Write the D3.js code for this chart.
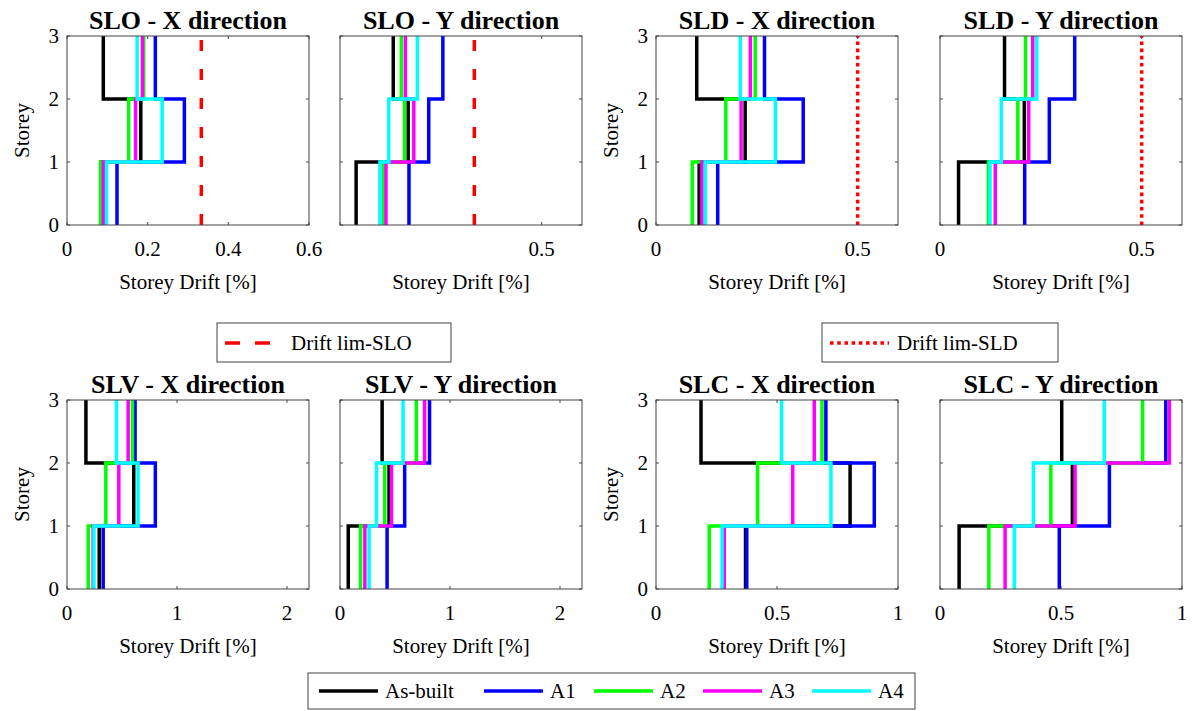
<!DOCTYPE html>
<html>
<head>
<meta charset="utf-8">
<script src="https://cdn.jsdelivr.net/npm/d3@7"></script>
<style>
  body { margin: 0; background: #fff; }
  svg { display: block; }
</style>
</head>
<body>
<svg id="chart" width="1192" height="711"></svg>
<script>
// Storey drift profiles, 8 panels (limit state x direction)
const seriesNames = ["As-built", "A1", "A2", "A3", "A4"];
const seriesColors = ["#000000", "#0000ff", "#00ff00", "#ff00ff", "#00ffff"];
const storeys = [0, 1, 2, 3];

// drift [%] per storey (1st, 2nd, 3rd), one row per series
const sloX = [[0.085, 0.183, 0.090], [0.124, 0.291, 0.219], [0.083, 0.153, 0.190], [0.090, 0.170, 0.187], [0.098, 0.236, 0.174]];
const sloY = [[0.040, 0.169, 0.132], [0.171, 0.220, 0.255], [0.108, 0.160, 0.152], [0.114, 0.183, 0.162], [0.099, 0.121, 0.192]];
const sldX = [[0.107, 0.221, 0.101], [0.153, 0.365, 0.269], [0.090, 0.173, 0.246], [0.114, 0.211, 0.234], [0.122, 0.296, 0.209]];
const sldY = [[0.046, 0.209, 0.160], [0.210, 0.271, 0.334], [0.120, 0.193, 0.212], [0.137, 0.220, 0.230], [0.124, 0.152, 0.240]];
const slvX = [[0.293, 0.607, 0.172], [0.329, 0.803, 0.619], [0.193, 0.353, 0.595], [0.238, 0.471, 0.556], [0.245, 0.646, 0.450]];
const slvY = [[0.075, 0.446, 0.383], [0.428, 0.588, 0.814], [0.187, 0.407, 0.694], [0.226, 0.468, 0.769], [0.265, 0.332, 0.573]];
const slcX = [[0.370, 0.802, 0.186], [0.375, 0.902, 0.702], [0.220, 0.420, 0.686], [0.282, 0.565, 0.654], [0.273, 0.723, 0.519]];
const slcY = [[0.079, 0.547, 0.503], [0.493, 0.700, 0.933], [0.202, 0.458, 0.837], [0.269, 0.558, 0.948], [0.307, 0.386, 0.679]];

const panelTitles = ["SLO - X direction", "SLO - Y direction", "SLD - X direction", "SLD - Y direction",
                     "SLV - X direction", "SLV - Y direction", "SLC - X direction", "SLC - Y direction"];
const panelData = [sloX, sloY, sldX, sldY, slvX, slvY, slcX, slcY];
const panelMax = [0.6, 0.6, 0.6, 0.6, 2.2, 2.2, 1, 1];
const panelTicks = [[0, 0.2, 0.4, 0.6], [0, 0.5], [0, 0.5], [0, 0.5], [0, 1, 2], [0, 1, 2], [0, 0.5, 1], [0, 0.5, 1]];
const panelTickLabels = [["0", "0.2", "0.4", "0.6"], ["", "0.5"], ["0", "0.5"], ["0", "0.5"],
                         ["0", "1", "2"], ["0", "1", "2"], ["0", "0.5", "1"], ["0", "0.5", "1"]];
// drift limits: SLO 0.333 %, SLD 0.5 %
const limitValues = [0.333, 0.333, 0.5, 0.5, null, null, null, null];
const limitStyle = ["slo", "slo", "sld", "sld", null, null, null, null];

const svg = d3.select("#chart");
const axisColor = "#444";
const serif = "'Liberation Serif', serif";
// 22px+ switches to a different face in this renderer, keep 21
const fontSize = "21px";

const lefts = [67, 340, 656, 940];
const tops = [36, 400];
const pw = 242, ph = 189;

const y = d3.scaleLinear().domain([0, 3]).range([ph, 0]);

function stepPoints(v) {
  return [[v[0], 0], [v[0], 1], [v[1], 1], [v[1], 2], [v[2], 2], [v[2], 3]];
}

function label(sel) {
  return sel.style("font-family", serif).style("font-size", fontSize);
}

panelData.forEach((data, i) => {
  const col = i % 4, row = Math.floor(i / 4);
  const g = svg.append("g").attr("transform", `translate(${lefts[col]},${tops[row]})`);
  const x = d3.scaleLinear().domain([0, panelMax[i]]).range([0, pw]);

  g.append("rect")
      .attr("width", pw).attr("height", ph)
      .attr("fill", "#fff");

  // ticks inside, on all four sides
  const tk = g.append("g").attr("stroke", axisColor).attr("stroke-width", 1);
  panelTicks[i].forEach(t => {
    tk.append("line").attr("x1", x(t)).attr("x2", x(t)).attr("y1", ph).attr("y2", ph - 3);
    tk.append("line").attr("x1", x(t)).attr("x2", x(t)).attr("y1", 0).attr("y2", 3);
  });
  storeys.forEach(s => {
    tk.append("line").attr("x1", 0).attr("x2", 3).attr("y1", y(s)).attr("y2", y(s));
    tk.append("line").attr("x1", pw).attr("x2", pw - 3).attr("y1", y(s)).attr("y2", y(s));
  });

  const line = d3.line().x(d => x(d[0])).y(d => y(d[1]));

  if (limitValues[i] !== null) {
    g.append("line")
        .attr("x1", x(limitValues[i])).attr("x2", x(limitValues[i]))
        .attr("y1", y(0)).attr("y2", y(3))
        .attr("stroke", "#ff0000")
        .attr("stroke-width", 3.5)
        .attr("stroke-dasharray", limitStyle[i] === "slo" ? "11,18" : "3.6,3.6");
  }

  g.append("g")
      .attr("fill", "none")
      .attr("stroke-width", 3.5)
      .attr("stroke-linejoin", "miter")
    .selectAll("path")
    .data(data)
    .join("path")
      .attr("stroke", (d, k) => seriesColors[k])
      .attr("d", d => line(stepPoints(d)));

  g.append("rect")
      .attr("width", pw).attr("height", ph)
      .attr("fill", "none")
      .attr("stroke", axisColor)
      .attr("stroke-width", 1);

  // tick labels
  g.append("g")
      .attr("text-anchor", "middle")
    .selectAll("text")
    .data(panelTicks[i])
    .join("text")
      .call(label)
      .attr("x", d => x(d))
      .attr("y", ph + 31)
      .text((d, k) => panelTickLabels[i][k]);

  g.append("text")
      .call(label)
      .attr("x", pw / 2)
      .attr("y", ph + 64)
      .attr("text-anchor", "middle")
      .text("Storey Drift [%]");

  g.append("text")
      .attr("x", pw / 2)
      .attr("y", -7)
      .attr("text-anchor", "middle")
      .style("font-family", serif)
      .style("font-size", "26px")
      .style("font-weight", "bold")
      .text(panelTitles[i]);

  if (col % 2 === 0) {
    g.append("g")
        .attr("text-anchor", "end")
      .selectAll("text")
      .data(storeys)
      .join("text")
        .call(label)
        .attr("x", -8)
        .attr("y", d => y(d) + 7)
        .text(d => d);

    g.append("text")
        .call(label)
        .attr("transform", `translate(-38,${ph / 2}) rotate(-90)`)
        .attr("text-anchor", "middle")
        .text("Storey");
  }
});

// limit legends
function legendBox(x0, y0, w, h) {
  return svg.append("rect")
      .attr("x", x0).attr("y", y0).attr("width", w).attr("height", h)
      .attr("fill", "#fff").attr("stroke", axisColor).attr("stroke-width", 1);
}

legendBox(217, 323, 234, 39);
svg.append("line")
    .attr("x1", 225).attr("x2", 270).attr("y1", 343).attr("y2", 343)
    .attr("stroke", "#ff0000").attr("stroke-width", 3.5).attr("stroke-dasharray", "15,15");
svg.append("text").call(label).attr("x", 291).attr("y", 350).text("Drift lim-SLO");

legendBox(822, 323, 236, 39);
svg.append("line")
    .attr("x1", 830).attr("x2", 889).attr("y1", 343).attr("y2", 343)
    .attr("stroke", "#ff0000").attr("stroke-width", 3.5).attr("stroke-dasharray", "3.6,3.6");
svg.append("text").call(label).attr("x", 897).attr("y", 350).text("Drift lim-SLD");

// series legend
legendBox(308, 673, 607, 36);
const itemX = [319, 484, 594, 703, 812];
seriesNames.forEach((name, k) => {
  svg.append("line")
      .attr("x1", itemX[k]).attr("x2", itemX[k] + 59).attr("y1", 691).attr("y2", 691)
      .attr("stroke", seriesColors[k]).attr("stroke-width", 3.5);
  svg.append("text")
      .call(label)
      .attr("x", itemX[k] + 66).attr("y", 698)
      .text(name);
});
</script>
</body>
</html>
